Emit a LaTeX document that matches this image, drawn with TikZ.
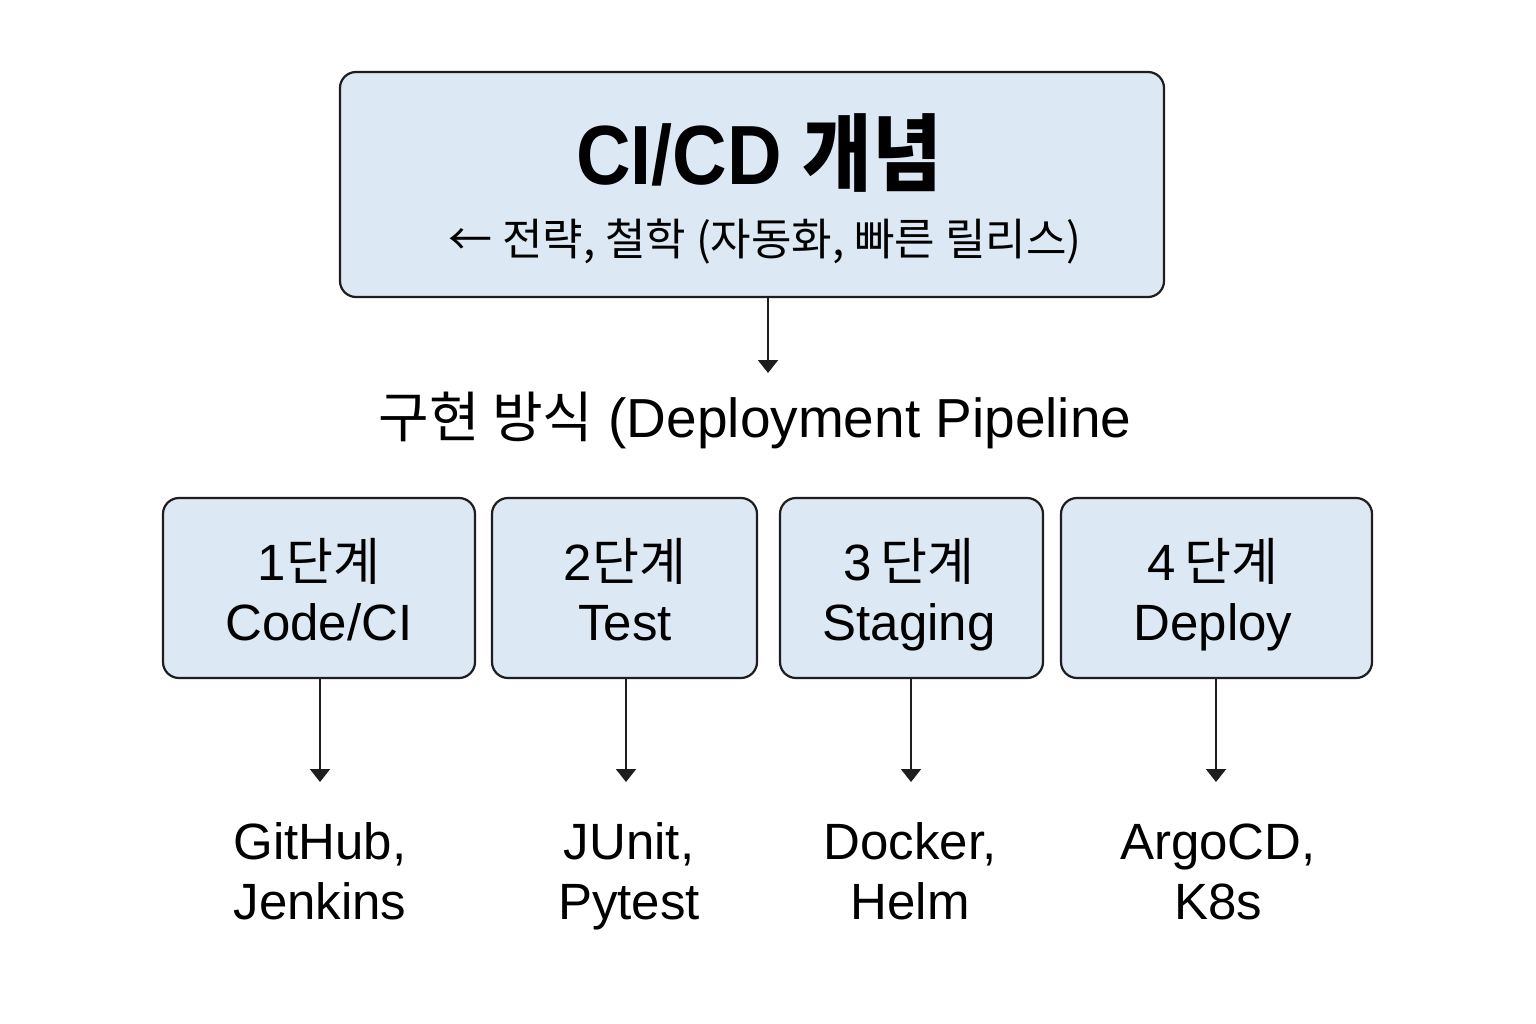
\documentclass[tikz,border=0pt]{standalone}
\usepackage{fontspec}
\usepackage{graphicx}
\setmainfont{Liberation Sans}
\newfontfamily\kr{Noto Sans CJK KR}
\usetikzlibrary{arrows.meta}
\definecolor{boxfill}{RGB}{220,232,243}
\definecolor{edge}{RGB}{30,30,30}
\tikzset{
  box/.style={draw=edge, line width=2.2pt, fill=boxfill, rounded corners=16pt, inner sep=0pt},
  stagebox/.style={box, minimum height=180pt},
  stagetext/.style={align=center, inner sep=0pt, font=\fontsize{51}{60}\selectfont},
  tool/.style={align=center, font=\fontsize{51}{60}\selectfont, inner sep=0pt},
  conn/.style={draw=edge, line width=2pt, -{Triangle[width=20pt,length=13pt]}}
}
\begin{document}
\begin{tikzpicture}[x=1pt,y=-1pt]
\useasboundingbox[fill=white] (0,0) rectangle (1536,1024);
% top box
\node[box, minimum width=824pt, minimum height=225pt] (top) at (752,184.5) {};
\node[anchor=base, inner sep=0pt, font=\fontsize{84}{86}\selectfont\bfseries] (title) at (759,185)
  {\scalebox{0.9}[1]{CI/CD {\kr 개념}}};
\node[anchor=base, inner sep=0pt, font=\fontsize{44}{50}\selectfont] (sub) at (765,256)
  {\kr ← 전략, 철학 (자동화, 빠른 릴리스)};
% heading
\coordinate (headtop) at (768,373);
\node[anchor=base, inner sep=0pt, font=\fontsize{55}{60}\selectfont] (head) at (755,437)
  {{\kr 구현 방식} (Deployment Pipeline};
\draw[conn] (top.south -| headtop) -- (headtop);
% stages
\node[stagebox, minimum width=312pt] (s1) at (319,588) {};
\node[stagebox, minimum width=265pt] (s2) at (624.5,588) {};
\node[stagebox, minimum width=263pt] (s3) at (911.5,588) {};
\node[stagebox, minimum width=311pt] (s4) at (1216.5,588) {};
\node[stagetext] (s1t) at (319,598) {\strut 1{\kr 단계}\\\strut Code/CI};
\node[stagetext] (s2t) at (625,598) {\strut 2{\kr 단계}\\\strut Test};
\node[stagetext] (s3t) at (909,598) {\strut 3\,{\kr 단계}\\\strut Staging};
\node[stagetext] (s4t) at (1213,598) {\strut 4\,{\kr 단계}\\\strut Deploy};
% tools
\node[tool] (t1) at (320,877) {\strut GitHub,\\\strut Jenkins};
\node[tool] (t2) at (629,877) {\strut JUnit,\\\strut Pytest};
\node[tool] (t3) at (910,877) {\strut Docker,\\\strut Helm};
\node[tool] (t4) at (1218,877) {\strut ArgoCD,\\\strut K8s};
\coordinate (a1) at (320,782);
\coordinate (a2) at (626,782);
\coordinate (a3) at (911,782);
\coordinate (a4) at (1216,782);
\draw[conn] (s1.south -| a1) -- (a1);
\draw[conn] (s2.south -| a2) -- (a2);
\draw[conn] (s3.south -| a3) -- (a3);
\draw[conn] (s4.south -| a4) -- (a4);
\end{tikzpicture}
\end{document}
